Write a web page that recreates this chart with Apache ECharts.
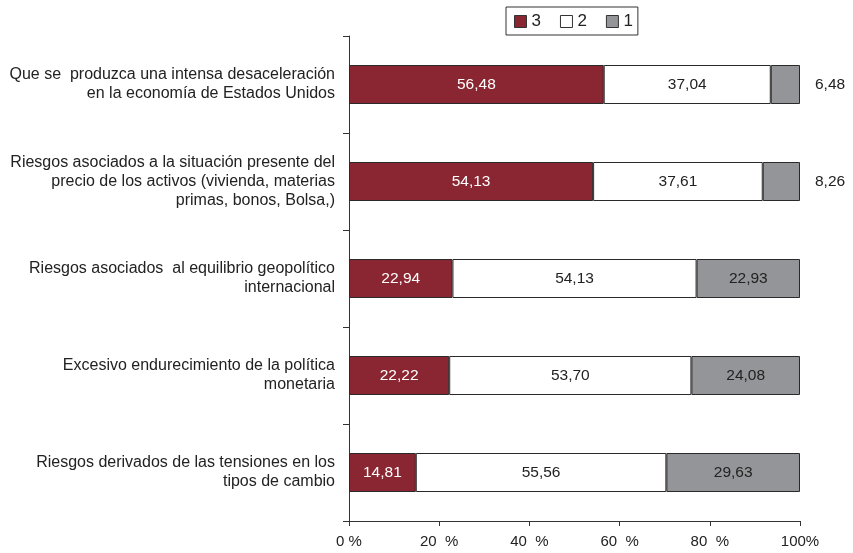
<!DOCTYPE html>
<html>
<head>
<meta charset="utf-8">
<script src="https://cdn.jsdelivr.net/npm/echarts@6/dist/echarts.min.js"></script>
<style>
  html, body { margin: 0; padding: 0; background: #fff; }
  #chart { width: 853px; height: 553px; }
</style>
</head>
<body>
<div id="chart"></div>
<script>
var categories = [
    'Que se  produzca una intensa desaceleración\nen la economía de Estados Unidos',
    'Riesgos asociados a la situación presente del\nprecio de los activos (vivienda, materias\nprimas, bonos, Bolsa,)',
    'Riesgos asociados  al equilibrio geopolítico\ninternacional',
    'Excesivo endurecimiento de la política\nmonetaria',
    'Riesgos derivados de las tensiones en los\ntipos de cambio'
];
var serie3 = [56.48, 54.13, 22.94, 22.22, 14.81];
var serie2 = [37.04, 37.61, 54.13, 53.70, 55.56];
var serie1 = [6.48, 8.26, 22.93, 24.08, 29.63];
var xTicks = ['0 %', '20  %', '40  %', '60  %', '80  %', '100%'];

var fontFam = '"Liberation Sans", Arial, sans-serif';

// coma decimal como en el original
function fmt(p) {
    return p.value.toFixed(2).replace('.', ',');
}

function makeSerie(name, data, color, textColor) {
    return {
        name: name,
        type: 'bar',
        stack: 'total',
        barWidth: 39,
        data: data.map(function (v) {
            var item = { value: v };
            if (name === '1' && v < 10) {
                item.label = { position: 'right', distance: 15, color: '#222' };
            }
            return item;
        }),
        itemStyle: { color: color, borderColor: '#2a2a2a', borderWidth: 1 },
        label: {
            show: true,
            position: 'inside',
            color: textColor,
            fontSize: 15.5,
            fontFamily: fontFam,
            formatter: fmt
        },
        emphasis: { disabled: true }
    };
}

var myChart = echarts.init(document.getElementById('chart'));
myChart.setOption({
    animation: false,
    textStyle: { fontFamily: fontFam },
    legend: {
        left: 506,
        top: 7,
        padding: [6, 5, 5, 8],
        borderColor: '#333',
        borderWidth: 1,
        itemWidth: 12,
        itemHeight: 12,
        itemGap: 19,
        icon: 'rect',
        data: ['3', '2', '1'],
        itemStyle: { borderColor: '#333', borderWidth: 1 },
        textStyle: { fontSize: 17, color: '#222' }
    },
    grid: { left: 349, right: 53, top: 36, bottom: 32 },
    xAxis: {
        type: 'value',
        min: 0,
        max: 100,
        interval: 20,
        splitLine: { show: false },
        axisLine: { show: true, lineStyle: { color: '#333' } },
        axisTick: { show: true, length: 5, lineStyle: { color: '#333' } },
        axisLabel: {
            color: '#222',
            fontSize: 15,
            margin: 13,
            formatter: function (v) { return xTicks[v / 20]; }
        }
    },
    yAxis: {
        type: 'category',
        inverse: true,
        data: categories,
        axisLine: { show: true, lineStyle: { color: '#333' } },
        axisTick: { show: true, length: 6, lineStyle: { color: '#333' } },
        axisLabel: {
            color: '#222',
            fontSize: 16,
            lineHeight: 19,
            margin: 14,
            align: 'right'
        }
    },
    series: [
        makeSerie('3', serie3, '#8a2631', '#fff'),
        makeSerie('2', serie2, '#ffffff', '#222'),
        makeSerie('1', serie1, '#939598', '#222')
    ]
});
</script>
</body>
</html>
